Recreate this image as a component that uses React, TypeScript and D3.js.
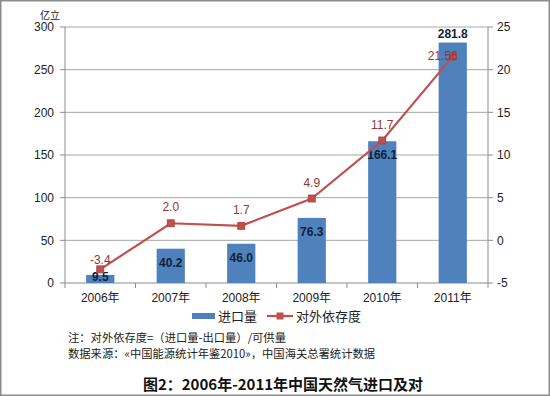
import React, { useEffect, useRef } from 'react';
import * as d3 from 'd3';

const years = ['2006年', '2007年', '2008年', '2009年', '2010年', '2011年'];
const imports = [9.5, 40.2, 46.0, 76.3, 166.1, 281.8];
const dependency = [-3.4, 2.0, 1.7, 4.9, 11.7, 21.56];
const dependencyLabels = ['-3.4', '2.0', '1.7', '4.9', '11.7', '21.56'];
const leftTicks = [0, 50, 100, 150, 200, 250, 300];
const rightTicks = [-5, 0, 5, 10, 15, 20, 25];

const BAR = '#4F81BD';
const LINE = '#C0504D';
const FONT = '"Liberation Sans", "Noto Sans CJK SC", sans-serif';
const CJK = '"Noto Sans CJK SC", "Liberation Sans", sans-serif';

export default function App() {
  const ref = useRef<SVGSVGElement>(null);

  useEffect(() => {
    const svg = d3.select(ref.current);
    svg.selectAll('*').remove();

    const left = 65, right = 488, top = 27, bottom = 283;

    const x = d3.scaleBand<string>()
      .domain(years)
      .range([left, right])
      .paddingInner(0.6)
      .paddingOuter(0.3);
    const step = x.step();
    const yL = d3.scaleLinear().domain([0, 300]).range([bottom, top]);
    const yR = d3.scaleLinear().domain([-5, 25]).range([bottom, top]);

    // frame
    svg.append('rect')
      .attr('x', 0.75).attr('y', 0.75)
      .attr('width', 548.5).attr('height', 394.5)
      .attr('fill', '#fff')
      .attr('stroke', '#8c8c8c')
      .attr('stroke-width', 1.5);

    // grid
    svg.append('g')
      .selectAll('line')
      .data(leftTicks.filter(d => d > 0))
      .enter()
      .append('line')
        .attr('x1', left).attr('x2', right)
        .attr('y1', d => yL(d)).attr('y2', d => yL(d))
        .attr('stroke', '#a6a6a6')
        .attr('stroke-width', 1);

    // axes
    const axisG = svg.append('g').attr('stroke', '#8c8c8c').attr('stroke-width', 1);
    axisG.append('line').attr('x1', left).attr('x2', left).attr('y1', top).attr('y2', bottom);
    axisG.append('line').attr('x1', right).attr('x2', right).attr('y1', top).attr('y2', bottom);
    axisG.append('line').attr('x1', left).attr('x2', right).attr('y1', bottom).attr('y2', bottom);
    leftTicks.forEach(t => {
      axisG.append('line').attr('x1', left - 5).attr('x2', left).attr('y1', yL(t)).attr('y2', yL(t));
    });
    rightTicks.forEach(t => {
      axisG.append('line').attr('x1', right).attr('x2', right + 5).attr('y1', yR(t)).attr('y2', yR(t));
    });
    d3.range(years.length + 1).forEach(i => {
      const xx = left + i * step;
      axisG.append('line').attr('x1', xx).attr('x2', xx).attr('y1', bottom).attr('y2', bottom + 5);
    });

    svg.append('g')
      .selectAll('text')
      .data(leftTicks)
      .enter()
      .append('text')
        .attr('x', left - 11)
        .attr('y', d => yL(d))
        .attr('dy', '0.35em')
        .attr('text-anchor', 'end')
        .attr('font-family', FONT)
        .attr('font-size', 12)
        .attr('fill', '#222')
        .text(d => d);

    svg.append('g')
      .selectAll('text')
      .data(rightTicks)
      .enter()
      .append('text')
        .attr('x', right + 9)
        .attr('y', d => yR(d))
        .attr('dy', '0.35em')
        .attr('font-family', FONT)
        .attr('font-size', 12)
        .attr('fill', '#222')
        .text(d => d);

    svg.append('text')
      .attr('x', 50).attr('y', 15)
      .attr('dy', '0.35em')
      .attr('text-anchor', 'middle')
      .attr('font-family', CJK)
      .attr('font-size', 10)
      .attr('fill', '#222')
      .text('亿立');

    svg.append('g')
      .selectAll('text')
      .data(years)
      .enter()
      .append('text')
        .attr('x', d => (x(d) as number) + x.bandwidth() / 2)
        .attr('y', 297.5)
        .attr('dy', '0.35em')
        .attr('text-anchor', 'middle')
        .attr('font-family', FONT)
        .attr('font-size', 12)
        .attr('fill', '#222')
        .text(d => d);

    // bars
    svg.append('g')
      .selectAll('rect')
      .data(imports)
      .enter()
      .append('rect')
        .attr('x', (d, i) => x(years[i]) as number)
        .attr('y', d => yL(d))
        .attr('width', x.bandwidth())
        .attr('height', d => bottom - yL(d))
        .attr('fill', BAR);

    svg.append('g')
      .selectAll('text')
      .data(imports)
      .enter()
      .append('text')
        .attr('x', (d, i) => (x(years[i]) as number) + x.bandwidth() / 2)
        .attr('y', (d, i) => i === imports.length - 1 ? yL(d) - 9 : Math.min(yL(d) + 14, 277))
        .attr('dy', '0.35em')
        .attr('text-anchor', 'middle')
        .attr('font-family', FONT)
        .attr('font-size', 12)
        .attr('font-weight', 'bold')
        .attr('fill', '#0F1F3A')
        .text(d => d.toFixed(1));

    // line
    const line = d3.line<number>()
      .x((d, i) => (x(years[i]) as number) + x.bandwidth() / 2)
      .y(d => yR(d));
    svg.append('path')
      .datum(dependency)
      .attr('d', line)
      .attr('fill', 'none')
      .attr('stroke', LINE)
      .attr('stroke-width', 2.2);

    svg.append('g')
      .selectAll('rect')
      .data(dependency)
      .enter()
      .append('rect')
        .attr('x', (d, i) => (x(years[i]) as number) + x.bandwidth() / 2 - 3.5)
        .attr('y', d => yR(d) - 3.5)
        .attr('width', 7).attr('height', 7)
        .attr('fill', LINE)
        .attr('stroke', '#A5403D')
        .attr('stroke-width', 0.8);

    svg.append('g')
      .selectAll('text')
      .data(dependency)
      .enter()
      .append('text')
        .attr('x', (d, i) => (x(years[i]) as number) + x.bandwidth() / 2 + (i === dependency.length - 1 ? -10 : 0))
        .attr('y', (d, i) => yR(d) - (i === 0 ? 10 : i === dependency.length - 1 ? 1 : 16))
        .attr('dy', '0.35em')
        .attr('text-anchor', 'middle')
        .attr('font-family', FONT)
        .attr('font-size', 12)
        .attr('fill', '#953735')
        .text((d, i) => dependencyLabels[i]);

    // legend
    const lg = svg.append('g').attr('font-family', CJK).attr('font-size', 13).attr('fill', '#222');
    lg.append('rect').attr('x', 192).attr('y', 313).attr('width', 23).attr('height', 6).attr('fill', BAR);
    lg.append('text').attr('x', 218).attr('y', 316.5).attr('dy', '0.35em').text('进口量');
    lg.append('line').attr('x1', 267).attr('x2', 293).attr('y1', 316).attr('y2', 316)
      .attr('stroke', LINE).attr('stroke-width', 2.2);
    lg.append('rect').attr('x', 276.5).attr('y', 312.5).attr('width', 7).attr('height', 7).attr('fill', LINE);
    lg.append('text').attr('x', 296).attr('y', 316.5).attr('dy', '0.35em').text('对外依存度');

    // notes
    const notes = svg.append('g').attr('font-family', CJK).attr('font-size', 11.3).attr('fill', '#222');
    notes.append('text').attr('x', 68).attr('y', 338).attr('dy', '0.35em')
      .text('注：对外依存度=（进口量-出口量）/可供量');
    notes.append('text').attr('x', 68).attr('y', 354).attr('dy', '0.35em')
      .text('数据来源：«中国能源统计年鉴2010»，中国海关总署统计数据');

    svg.append('text')
      .attr('x', 283).attr('y', 385)
      .attr('dy', '0.35em')
      .attr('text-anchor', 'middle')
      .attr('font-family', CJK)
      .attr('font-size', 15)
      .attr('font-weight', 'bold')
      .attr('fill', '#111')
      .text('图2：2006年-2011年中国天然气进口及对');
  }, []);

  return (
    <svg ref={ref} width={550} height={396}
      style={{ position: 'absolute', left: 0, top: 0, background: '#fff' }} />
  );
}
